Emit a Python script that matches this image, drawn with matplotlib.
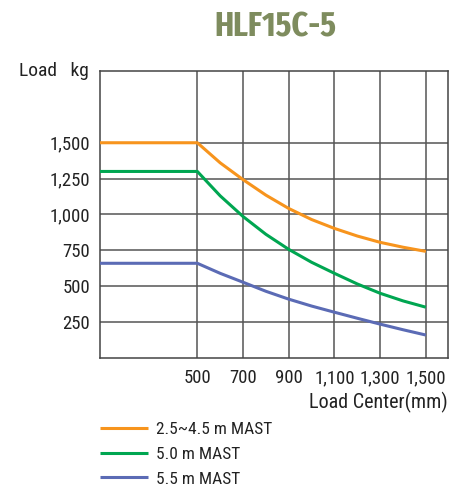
import matplotlib.pyplot as plt
import matplotlib as mpl

mpl.rcParams['font.family'] = ['Roboto Condensed', 'DejaVu Sans']

# load center (mm) and capacity (kg)
centers = [0, 500, 600, 700, 800, 900, 1000, 1100, 1200, 1300, 1400, 1500]
mast_45 = [1500, 1500, 1360, 1243, 1135, 1042, 965, 903, 850, 806, 772, 743]
mast_50 = [1300, 1300, 1130, 986, 862, 757, 667, 590, 516, 451, 398, 354]
mast_55 = [660, 660, 590, 528, 465, 410, 362, 319, 277, 236, 197, 160]
labels = ["2.5~4.5 m MAST", "5.0 m MAST", "5.5 m MAST"]
colors = ["#F7941D", "#00A651", "#5B6BB5"]

x_ticks = [500, 700, 900, 1100, 1300, 1500]
y_ticks = [250, 500, 750, 1000, 1250, 1500]

f = plt.figure(figsize=[4.52, 4.86], dpi=100)
ax = f.add_axes([100 / 452, 1 - 358 / 486, 348 / 452, 287 / 486])

for ys, c, lab in zip([mast_45, mast_50, mast_55], colors, labels):
    ax.plot(centers, ys, color=c, lw=2.2, label=lab, zorder=3, solid_capstyle="butt")

ax.set_xlim(74, 1597)
ax.set_ylim(0, 2000)
ax.set_xticks(x_ticks)
ax.set_xticklabels([f"{v:,}" for v in x_ticks])
ax.set_yticks(y_ticks)
ax.set_yticklabels([f"{v:,}" for v in y_ticks])
ax.tick_params(length=0, labelsize=13.5, colors="#222222")
ax.tick_params(axis="x", pad=8)
ax.tick_params(axis="y", pad=7)
ax.grid(True, color="#555555", lw=1.1)
for s in ax.spines.values():
    s.set_color("#444444")
    s.set_linewidth(1.1)

f.text(275 / 452, 1 - 27 / 486, "HLF15C-5", ha="center", va="center",
       fontsize=25, fontweight="bold", color="#7E8C5E",
       family=["Fira Sans Extra Condensed", "Roboto Condensed", "DejaVu Sans"])
f.text(19 / 452, 1 - 71 / 486, "Load   kg", ha="left", va="center",
       fontsize=14, color="#222222")
f.text(448 / 452, 1 - 402 / 486, "Load Center(mm)", ha="right", va="center",
       fontsize=14.5, color="#222222")

ax.legend(loc="upper left", bbox_to_anchor=(100 / 452, 1 - 422 / 486),
          bbox_transform=f.transFigure, frameon=False, fontsize=12.5,
          handlelength=2.75, handletextpad=0.5, labelspacing=0.55,
          borderpad=0, borderaxespad=0, labelcolor="#222222")

f.savefig("out.png", dpi=100)
